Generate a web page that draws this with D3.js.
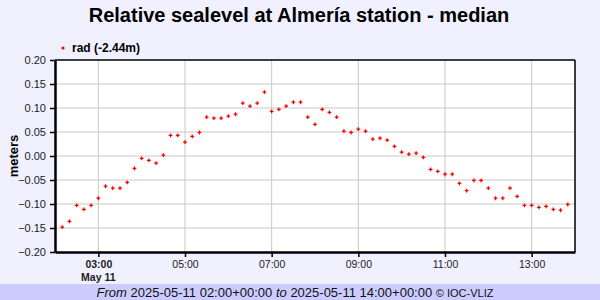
<!DOCTYPE html>
<html>
<head>
<meta charset="utf-8">
<script src="https://cdn.jsdelivr.net/npm/d3@7"></script>
<style>
  body { margin: 0; background: #f0f0ff; }
  svg { display: block; font-family: "Liberation Sans", Arial, sans-serif; }
</style>
</head>
<body>
<svg id="chart"></svg>
<script>
// sample times (UTC, 2025-05-11) and relative sea level in metres
var times = [
  "02:10","02:20","02:30","02:40","02:50","03:00","03:10","03:20","03:30","03:40","03:50",
  "04:00","04:10","04:20","04:30","04:40","04:50","05:00","05:10","05:20","05:30","05:40","05:50",
  "06:00","06:10","06:20","06:30","06:40","06:50","07:00","07:10","07:20","07:30","07:40","07:50",
  "08:00","08:10","08:20","08:30","08:40","08:50","09:00","09:10","09:20","09:30","09:40","09:50",
  "10:00","10:10","10:20","10:30","10:40","10:50","11:00","11:10","11:20","11:30","11:40","11:50",
  "12:00","12:10","12:20","12:30","12:40","12:50","13:00","13:10","13:20","13:30","13:40","13:50"
];
var rad = [
  -0.148,-0.136,-0.103,-0.111,-0.103,-0.088,-0.063,-0.067,-0.067,-0.055,-0.026,
  -0.005,-0.009,-0.015,0.002,0.043,0.043,0.029,0.041,0.049,0.081,0.079,0.079,
  0.083,0.087,0.110,0.104,0.110,0.133,0.093,0.097,0.104,0.112,0.112,0.081,
  0.066,0.097,0.091,0.081,0.052,0.049,0.056,0.052,0.035,0.037,0.033,0.020,
  0.008,0.004,0.006,-0.003,-0.028,-0.032,-0.038,-0.038,-0.057,-0.072,-0.051,-0.051,
  -0.067,-0.088,-0.088,-0.067,-0.084,-0.103,-0.103,-0.107,-0.105,-0.111,-0.113,-0.101
];
var yTicks = [-0.20,-0.15,-0.10,-0.05,0.00,0.05,0.10,0.15,0.20];
var xTickLabels = ["03:00","05:00","07:00","09:00","11:00","13:00"];
var dayLabel = "May 11";
var seriesName = "rad (-2.44m)";
var title = "Relative sealevel at Almería station - median";
var fromTime = "2025-05-11 02:00+00:00", toTime = "2025-05-11 14:00+00:00";

var width = 600, height = 300;
var margin = {top: 60, right: 25, bottom: 48, left: 55};
var w = width - margin.left - margin.right,
    h = height - margin.top - margin.bottom;

var parse = d3.utcParse("%Y-%m-%d %H:%M");
var data = times.map(function(t, i) { return {date: parse("2025-05-11 " + t), value: rad[i]}; });

var svg = d3.select("#chart").attr("width", width).attr("height", height);

svg.append("rect").attr("width", width).attr("height", height).attr("fill", "#f0f0ff");
svg.append("rect").attr("y", 284).attr("width", width).attr("height", 16).attr("fill", "#ccccff");

var x = d3.scaleUtc()
    .domain([parse("2025-05-11 02:00"), parse("2025-05-11 14:00")])
    .range([0, w]);
var y = d3.scaleLinear().domain([-0.2, 0.2]).range([h, 0]);

var g = svg.append("g").attr("transform", "translate(" + margin.left + "," + margin.top + ")");

g.append("rect").attr("width", w).attr("height", h).attr("fill", "#fff");

var xTickDates = xTickLabels.map(function(t) { return parse("2025-05-11 " + t); });

// grid
g.append("g").selectAll("line").data(yTicks.slice(1, -1)).enter().append("line")
    .attr("x1", 0).attr("x2", w)
    .attr("y1", function(d) { return y(d); }).attr("y2", function(d) { return y(d); })
    .attr("stroke", "#c8c8c8").attr("stroke-width", 1);
g.append("g").selectAll("line").data(xTickDates).enter().append("line")
    .attr("y1", 0).attr("y2", h)
    .attr("x1", function(d) { return x(d); }).attr("x2", function(d) { return x(d); })
    .attr("stroke", "#c8c8c8").attr("stroke-width", 1);

// frame
g.append("line").attr("x1", 0).attr("x2", w).attr("y1", 0).attr("y2", 0).attr("stroke", "#000").attr("stroke-width", 1.5);
g.append("line").attr("x1", w).attr("x2", w).attr("y1", 0).attr("y2", h).attr("stroke", "#000").attr("stroke-width", 1.5);

// axes
var yAxis = g.append("g")
    .call(d3.axisLeft(y).tickValues(yTicks).tickFormat(d3.format(".2f")).tickSize(5).tickSizeOuter(0));
yAxis.select(".domain").attr("stroke-width", 2.5);
yAxis.selectAll("line").attr("stroke-width", 1.5);
yAxis.selectAll("text").attr("font-size", 11).attr("font-family", "Liberation Sans, Arial, sans-serif").attr("fill", "#222").attr("dx", -1);

var xAxis = g.append("g")
    .attr("transform", "translate(0," + h + ")")
    .call(d3.axisBottom(x).tickValues(xTickDates).tickFormat(d3.utcFormat("%H:%M")).tickSize(5).tickSizeOuter(0));
xAxis.select(".domain").attr("stroke-width", 2.5);
xAxis.selectAll("line").attr("stroke-width", 1.5);
xAxis.selectAll("text").attr("font-size", 10.5).attr("font-family", "Liberation Sans, Arial, sans-serif")
    .attr("fill", "#222").attr("dy", "0.8em")
    .attr("font-weight", function(d, i) { return i === 0 ? "bold" : "normal"; });
xAxis.append("text")
    .attr("x", x(xTickDates[0])).attr("y", 29)
    .attr("text-anchor", "middle").attr("font-size", 10.5).attr("font-weight", "bold")
    .attr("fill", "#222").text(dayLabel);

// points
var cross = d3.symbol().type(d3.symbolCross).size(8);
g.append("g").selectAll("path").data(data).enter().append("path")
    .attr("d", cross)
    .attr("transform", function(d) { return "translate(" + x(d.date) + "," + y(d.value) + ")"; })
    .attr("fill", "#ff0000");

// title & labels
svg.append("text").attr("x", 299).attr("y", 22).attr("text-anchor", "middle")
    .attr("font-size", 20).attr("font-weight", "bold").attr("fill", "#000").text(title);

svg.append("circle").attr("cx", 63).attr("cy", 48).attr("r", 1.6).attr("fill", "#ff0000");
svg.append("text").attr("x", 72).attr("y", 52).attr("font-size", 12).attr("font-weight", "bold")
    .attr("fill", "#000").text(seriesName);

svg.append("text").attr("transform", "translate(18," + (margin.top + h / 2) + ") rotate(-90)")
    .attr("text-anchor", "middle").attr("font-size", 13).attr("font-weight", "bold").attr("fill", "#000").text("meters");

var foot = svg.append("text").attr("x", 295).attr("y", 297).attr("text-anchor", "middle")
    .attr("font-size", 13).attr("fill", "#111");
foot.append("tspan").attr("font-style", "italic").text("From ");
foot.append("tspan").text(fromTime + " ");
foot.append("tspan").attr("font-style", "italic").text("to ");
foot.append("tspan").text(toTime + " ");
foot.append("tspan").attr("font-size", 11).text("© IOC-VLIZ");
</script>
</body>
</html>
